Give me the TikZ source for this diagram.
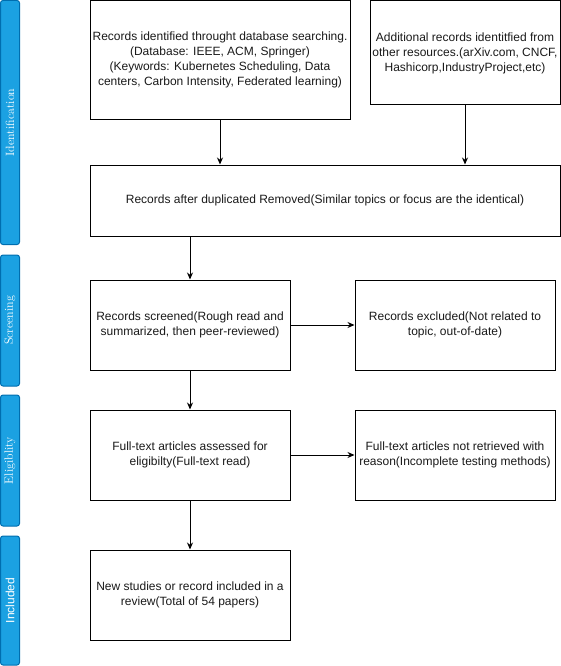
\documentclass[tikz,border=0pt]{standalone}
\usepackage{fontspec}
\setsansfont{Liberation Sans}
\usetikzlibrary{arrows.meta}
\definecolor{barfill}{HTML}{1BA1E2}
\definecolor{barline}{HTML}{006EAF}
\definecolor{txt}{HTML}{1A1A1A}
\tikzset{
  box/.style={draw=black, line width=1pt, fill=white, align=center, text=txt,
    font=\sffamily\fontsize{12}{15}\selectfont, inner sep=2pt},
  bar/.style={draw=barline, fill=barfill, line width=1pt, rounded corners=2.5pt,
    rotate=90, text=white, font=\rmfamily\fontsize{12}{14}\selectfont, inner sep=0pt},
  arr/.style={draw=black, line width=1pt, -{Stealth[length=7pt,width=6pt]}}
}
\begin{document}
\begin{tikzpicture}[x=1pt,y=-1pt]
\useasboundingbox (0,0) rectangle (561,666);
% side bars
\node[bar, minimum width=244pt, minimum height=19pt] (s1) at (10,122.5) {Identification};
\node[bar, minimum width=131pt, minimum height=19pt] (s2) at (10,320.5) {Screening};
\node[bar, minimum width=131pt, minimum height=19pt] (s3) at (10,460.5) {Eligiblity};
\node[bar, minimum width=129pt, minimum height=19pt, font=\sffamily\fontsize{12}{14}\selectfont] (s4) at (10,600.5) {Included};
% boxes
\node[box, minimum width=260pt, minimum height=119pt] (b1) at (220,60) {Records identified throught database searching.\\(Database: IEEE, ACM, Springer)\\(Keywords: Kubernetes Scheduling, Data\\centers, Carbon Intensity, Federated learning)};
\node[box, minimum width=190pt, minimum height=104pt] (b2) at (465,53) {Additional records identitfied from\\other resources.(arXiv.com, CNCF,\\Hashicorp,IndustryProject,etc)};
\node[box, minimum width=470pt, minimum height=71pt] (b3) at (325,200.5) {Records after duplicated Removed(Similar topics or focus are the identical)};
\node[box, minimum width=200pt, minimum height=90pt] (b4) at (190,325) {Records screened(Rough read and\\summarized, then peer-reviewed)};
\node[box, minimum width=200pt, minimum height=90pt] (b5) at (455,325) {Records excluded(Not related to\\topic, out-of-date)};
\node[box, minimum width=200pt, minimum height=90pt] (b6) at (190,455) {Full-text articles assessed for\\eligibilty(Full-text read)};
\node[box, minimum width=200pt, minimum height=90pt] (b7) at (455,455) {Full-text articles not retrieved with\\reason(Incomplete testing methods)};
\node[box, minimum width=200pt, minimum height=90pt] (b8) at (190,595) {New studies or record included in a\\review(Total of 54 papers)};
% arrows
\draw[arr] (b1.south) -- (b1.south |- b3.north);
\draw[arr] (b2.south) -- (b2.south |- b3.north);
\draw[arr] (b4.north |- b3.south) -- (b4.north);
\draw[arr] (b4.east) -- (b5.west);
\draw[arr] (b4.south) -- (b6.north);
\draw[arr] (b6.east) -- (b7.west);
\draw[arr] (b6.south) -- (b8.north);
\end{tikzpicture}
\end{document}
